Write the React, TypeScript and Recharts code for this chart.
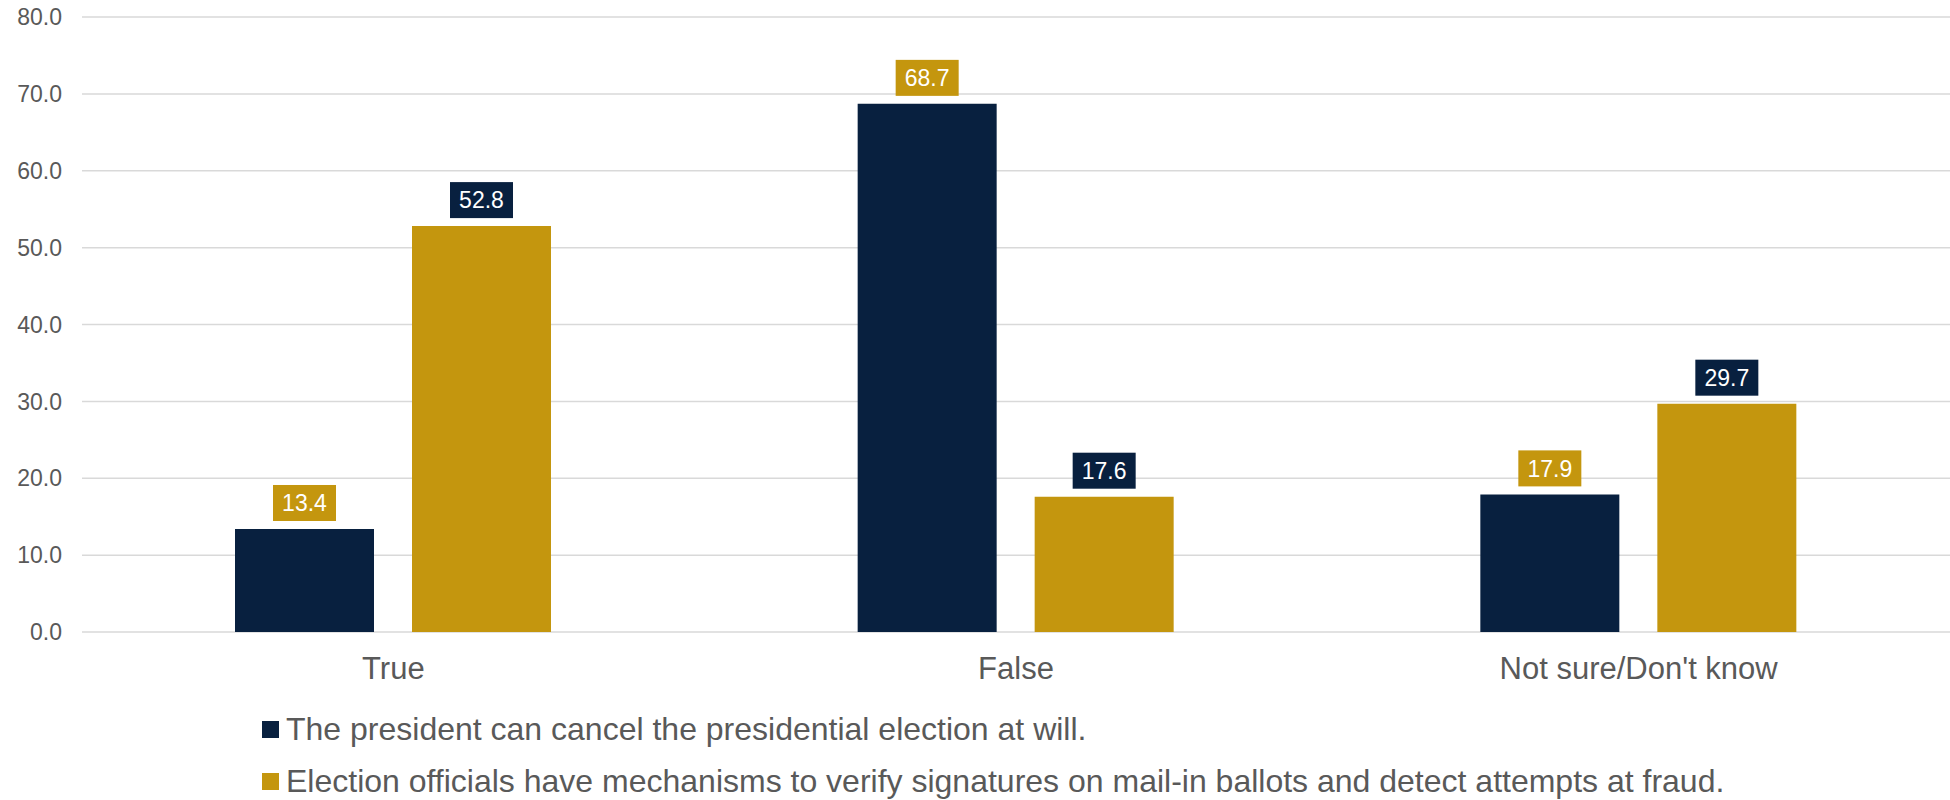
import { BarChart, Bar, XAxis, YAxis, CartesianGrid, Legend, LabelList } from "recharts";

const NAVY = "#08203f";
const GOLD = "#c4960e";
const TEXT = "#595959";
const FONT = "'Liberation Sans', Arial, sans-serif";

const categories = ["True", "False", "Not sure/Don't know"];
const presidentCancel = [13.4, 68.7, 17.9];
const officialsVerify = [52.8, 17.6, 29.7];
const yTicks = [0, 10, 20, 30, 40, 50, 60, 70, 80];

const SERIES_A = "The president can cancel the presidential election at will.";
const SERIES_B =
  "Election officials have mechanisms to verify signatures on mail-in ballots and detect attempts at fraud.";
const legendOrder = ["a", "b"];

const data = categories.map((name, i) => ({
  name,
  a: presidentCancel[i],
  b: officialsVerify[i],
}));

// value tag sits above the bar, in the other series' colour
function makeTag(bg: string) {
  return (props: any) => {
    const { x, y, width, value } = props;
    const w = 63;
    const h = 36;
    const cx = x + width / 2;
    const top = y - 8 - h;
    return (
      <g>
        <rect x={cx - w / 2} y={top} width={w} height={h} fill={bg} />
        <text
          x={cx}
          y={top + h / 2}
          dy="0.36em"
          textAnchor="middle"
          fill="#fff"
          fontSize={23}
          fontFamily={FONT}
        >
          {Number(value).toFixed(1)}
        </text>
      </g>
    );
  };
}

function LegendBox(props: any) {
  const items = [...(props.payload || [])].sort(
    (p: any, q: any) => legendOrder.indexOf(p.dataKey) - legendOrder.indexOf(q.dataKey)
  );
  return (
    <div style={{ paddingLeft: 262, fontFamily: FONT }}>
      {items.map((it: any) => (
        <div
          key={it.value}
          style={{ display: "flex", alignItems: "center", height: 52 }}
        >
          <span
            style={{
              display: "inline-block",
              width: 17,
              height: 17,
              background: it.color,
              marginRight: 7,
            }}
          />
          <span style={{ fontSize: 32, color: TEXT, whiteSpace: "nowrap" }}>
            {it.value}
          </span>
        </div>
      ))}
    </div>
  );
}

export default function App() {
  return (
    <div style={{ position: "absolute", left: 0, top: 0, background: "#fff" }}>
      <BarChart
        width={1950}
        height={800}
        data={data}
        margin={{ top: 17, right: 0, bottom: 108, left: 0 }}
        barSize={139}
        barGap={38}
      >
        <CartesianGrid vertical={false} stroke="#d9d9d9" strokeWidth={1.5} />
        <XAxis
          dataKey="name"
          axisLine={false}
          tickLine={false}
          tickSize={0}
          tickMargin={25}
          height={60}
          tick={{ fill: TEXT, fontSize: 31, fontFamily: FONT }}
        />
        <YAxis
          domain={[0, 80]}
          ticks={yTicks}
          width={82}
          axisLine={false}
          tickLine={false}
          tickSize={0}
          tickMargin={20}
          tickFormatter={(v: number) => v.toFixed(1)}
          tick={{ fill: TEXT, fontSize: 23, fontFamily: FONT }}
        />
        <Legend
          verticalAlign="middle"
          align="center"
          layout="horizontal"
          wrapperStyle={{ top: 703, left: 0, width: 1950 }}
          content={LegendBox}
        />
        <Bar dataKey="a" name={SERIES_A} fill={NAVY} isAnimationActive={false}>
          <LabelList dataKey="a" content={makeTag(GOLD)} />
        </Bar>
        <Bar dataKey="b" name={SERIES_B} fill={GOLD} isAnimationActive={false}>
          <LabelList dataKey="b" content={makeTag(NAVY)} />
        </Bar>
      </BarChart>
    </div>
  );
}
